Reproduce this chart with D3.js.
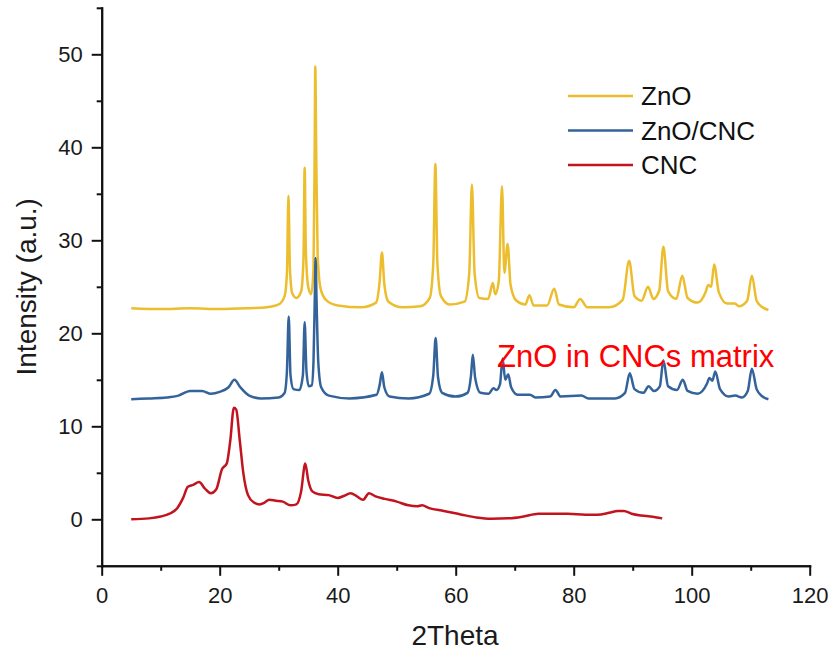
<!DOCTYPE html>
<html>
<head>
<meta charset="utf-8">
<script src="https://cdn.jsdelivr.net/npm/d3@7"></script>
<style>
  body { margin: 0; background: #fff; }
  svg { font-family: "Liberation Sans", Arial, sans-serif; }
  .axis path, .axis line { stroke: #111; stroke-width: 2; }
  .axis text { font-size: 22px; fill: #1a1a1a; }
</style>
</head>
<body>
<div id="chart"></div>
<script>
// XRD patterns, [2theta, intensity]
var znoData = [
  [5,22.7],[10,22.6],[15,22.7],[20,22.6],[25,22.7],[28,22.8],[30,23.1],
  [31,24.0],[31.4,26.5],[31.65,34.8],[31.9,27],[32.3,24.3],[33,23.8],[33.8,24.5],
  [34.2,28],[34.4,37.8],[34.6,29],[35,25],[35.5,24.2],[35.9,27],[36.1,40],
  [36.2,48.7],[36.35,40],[36.6,28.5],[37.1,24.8],[38,23.6],[40,23.0],[44,22.8],
  [46.5,23.3],[47.1,25.5],[47.5,28.7],[47.9,25.3],[48.6,23.4],[51,22.8],[54,22.9],
  [55.6,23.8],[56.2,27.5],[56.55,38.2],[56.9,27.5],[57.5,24],[59,23.1],[61.5,23.4],
  [62.3,26.5],[62.75,36.0],[63.2,26.5],[64,23.8],[65.5,23.7],[66.3,25.4],[66.7,24.2],
  [67.3,25.6],[67.85,35.8],[68.25,26.5],[68.8,29.6],[69.3,25.2],[70.3,23.5],[71.8,23.1],
  [72.5,24.1],[73.2,23.0],[75.5,23.0],[76.7,24.8],[77.5,23.1],[80,22.8],[81.1,23.7],
  [82.3,22.8],[86,22.8],[88.3,23.6],[89.4,27.8],[90.3,24],[91.5,23.5],[92.6,25.0],
  [93.5,23.7],[94.5,24.6],[95.2,29.3],[96,24.5],[97.4,23.7],[98.4,26.2],[99.3,23.8],
  [101,23.3],[102.4,24.5],[102.8,25.2],[103.3,25],[103.8,27.4],[104.6,24.4],[106,23.2],
  [107.3,23.2],[108,22.9],[109.4,23.5],[110.2,26.2],[111,23.5],[112,22.8],[113,22.5]
];

var znoCncData = [
  [5,12.9],[8,13.0],[11,13.1],[13,13.3],[15,13.8],[17,13.8],[18.5,13.5],[20,13.7],
  [21.5,14.2],[22.5,15.0],[23.5,14.2],[25,13.3],[27,13.0],[30,13.1],[31,13.6],
  [31.4,16],[31.7,21.8],[32,15.5],[32.5,14.0],[33.5,13.9],[34.1,15.5],[34.4,21.2],
  [34.7,16],[35.1,14.3],[35.6,14.4],[35.9,17],[36.15,25],[36.25,28.1],[36.4,24],
  [36.7,17],[37.2,14.2],[38.5,13.3],[42,13.0],[46.6,13.4],[47.1,14.4],[47.5,15.8],
  [47.9,14.2],[48.8,13.2],[52,13.0],[55.5,13.5],[56.2,15.5],[56.6,19.5],[57,15.3],
  [57.7,13.6],[60,13.2],[62,13.6],[62.6,15.5],[62.9,17.7],[63.3,15.2],[64.2,13.6],
  [65.6,13.5],[66.4,14.1],[66.9,13.9],[67.5,14.5],[67.95,17.3],[68.4,15.0],[68.9,15.6],
  [69.4,14.2],[70.5,13.4],[72.6,13.4],[73.5,13.1],[76,13.2],[76.9,13.9],[77.8,13.2],
  [81.3,13.3],[82.5,13.0],[87,13.0],[88.7,13.6],[89.5,15.7],[90.3,14.0],[91.8,13.6],
  [92.7,14.3],[93.6,13.8],[94.6,14.3],[95.2,17.1],[96,14.3],[97.5,13.9],[98.5,15.0],
  [99.3,13.8],[101,13.5],[102.6,14.6],[103,15.2],[103.5,14.9],[104,15.9],[104.8,14.0],
  [106.3,13.2],[107.4,13.3],[108.5,13.1],[109.5,13.8],[110.2,16.2],[111,14.0],
  [112,13.2],[113,12.9]
];

var cncData = [
  [5,0.0],[8,0.1],[10,0.3],[11.5,0.6],[12.8,1.2],[13.8,2.3],[14.6,3.5],[15.5,3.7],
  [16.5,4.0],[17.5,3.3],[18.5,2.8],[19.4,3.2],[20.4,5.4],[21.2,6.0],[21.8,8.5],
  [22.4,12.0],[22.8,11.8],[23.4,8.5],[24.0,5.0],[24.8,2.6],[25.8,1.8],[26.8,1.6],
  [27.6,1.8],[28.4,2.1],[29.5,2.0],[30.7,1.9],[32,1.5],[33,1.6],[33.8,3.0],[34.5,6.0],
  [35,4.2],[35.7,3.0],[36.8,2.7],[38.5,2.6],[40,2.3],[41,2.5],[42.2,2.8],[43.2,2.5],
  [44.3,2.1],[45.3,2.8],[46.3,2.5],[48,2.2],[50,1.9],[52,1.5],[53.5,1.4],[54.3,1.5],
  [55.5,1.2],[58,0.9],[61,0.5],[63.5,0.2],[66,0.05],[69,0.1],[71.5,0.3],[74,0.6],
  [76,0.6],[79,0.6],[82,0.5],[84,0.5],[86,0.7],[87.5,0.9],[88.5,0.9],[89.8,0.6],
  [91.5,0.4],[93,0.3],[95,0.1]
];

var seriesNames = ["ZnO", "ZnO/CNC", "CNC"];
var seriesColors = ["#ecbd2c", "#33639a", "#c2141e"];

var xTicks = [0, 20, 40, 60, 80, 100, 120];
var xMinorTicks = [10, 30, 50, 70, 90, 110];
var yTicks = [0, 10, 20, 30, 40, 50];
var yMinorTicks = [-5, 5, 15, 25, 35, 45, 55];

var annotation = "ZnO in CNCs matrix";

var margins = {top: 7.8, right: 22, bottom: 85, left: 101.7};
var W = 832, H = 651;
var w = 708, h = 558;

var xScale = d3.scaleLinear().domain([0, 120]).range([0, w]);
var yScale = d3.scaleLinear().domain([-5, 55]).range([h, 0]);

var svg = d3.select("#chart").append("svg")
    .attr("width", W).attr("height", H);
var g = svg.append("g")
    .attr("transform", "translate(" + margins.left + "," + margins.top + ")");

// minor ticks first, then the major axes on top
g.append("g").attr("class", "axis")
    .attr("transform", "translate(0," + h + ")")
    .call(d3.axisBottom(xScale).tickValues(xMinorTicks).tickSize(5).tickSizeOuter(0).tickFormat(""));
g.append("g").attr("class", "axis")
    .call(d3.axisLeft(yScale).tickValues(yMinorTicks).tickSize(5).tickSizeOuter(0).tickFormat(""));

var xAxis = g.append("g").attr("class", "axis")
    .attr("transform", "translate(0," + h + ")")
    .call(d3.axisBottom(xScale).tickValues(xTicks).tickSize(10).tickSizeOuter(0).tickPadding(10));
xAxis.selectAll("text").attr("dy", "0.78em");

g.append("g").attr("class", "axis")
    .call(d3.axisLeft(yScale).tickValues(yTicks).tickSize(10).tickSizeOuter(0).tickPadding(9));

g.selectAll(".axis .domain").attr("stroke-linecap", "square");

// axis titles
svg.append("text")
    .attr("x", 455).attr("y", 645)
    .attr("text-anchor", "middle")
    .style("font-size", "28px").style("fill", "#1a1a1a")
    .text("2Theta");

svg.append("text")
    .attr("transform", "translate(36," + (margins.top + h / 2) + ") rotate(-90)")
    .attr("text-anchor", "middle")
    .style("font-size", "28px").style("fill", "#1a1a1a")
    .text("Intensity (a.u.)");

var line = d3.line()
    .x(function(d) { return xScale(d[0]); })
    .y(function(d) { return yScale(d[1]); })
    .curve(d3.curveMonotoneX);

var allSeries = [znoData, znoCncData, cncData];
g.selectAll(".series").data(allSeries).enter().append("path")
    .attr("class", "series")
    .attr("d", line)
    .attr("fill", "none")
    .attr("stroke", function(d, i) { return seriesColors[i]; })
    .attr("stroke-width", 2.5)
    .attr("stroke-linejoin", "round");

// legend
var legend = svg.append("g").attr("transform", "translate(568,96)");
seriesNames.forEach(function(name, i) {
    var row = legend.append("g").attr("transform", "translate(0," + (i * 34.5) + ")");
    row.append("line")
        .attr("x1", 0).attr("x2", 65).attr("y1", 0).attr("y2", 0)
        .attr("stroke", seriesColors[i]).attr("stroke-width", 2.5);
    row.append("text")
        .attr("x", 73).attr("y", 9)
        .style("font-size", "26px").style("fill", "#111")
        .text(name);
});

svg.append("text")
    .attr("x", 497).attr("y", 367)
    .style("font-size", "31px").style("fill", "#ff0000")
    .text(annotation);
</script>
</body>
</html>
